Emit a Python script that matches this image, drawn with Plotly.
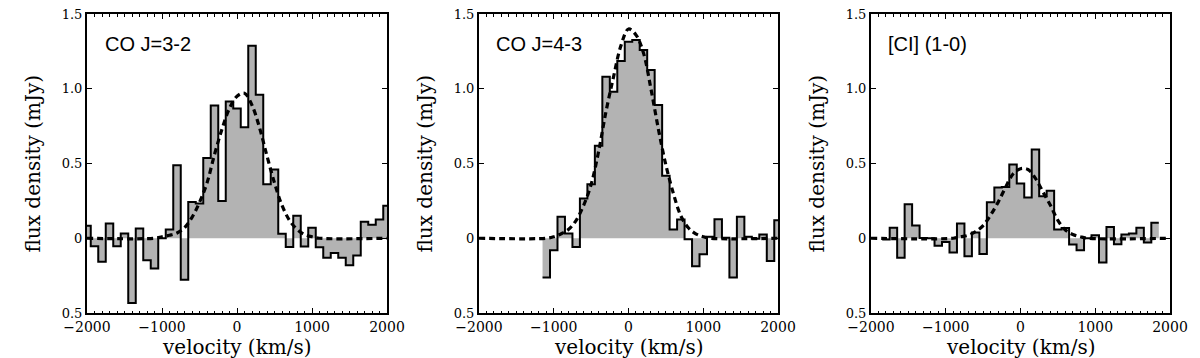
import numpy as np
import plotly.graph_objects as go
from plotly.subplots import make_subplots

# channel centres (km/s) and flux density (mJy), 100 km/s channels
bin_width = 100

co32_vel = list(range(-2000, 2001, 100))
co32_flux = [0.083, -0.054, -0.158, 0.098, -0.054, 0.031, -0.433, 0.065, -0.147, -0.203,
             0.0, 0.058, 0.489, -0.277, 0.243, 0.232, 0.536, 0.888, 0.250, 0.915,
             0.868, 0.743, 1.288, 0.960, 0.362, 0.460, 0.030, -0.058, 0.150, -0.055,
             0.070, -0.060, -0.130, -0.098, -0.130, -0.180, -0.115, 0.110, 0.090, 0.125,
             0.218]

co43_vel = list(range(-1100, 2001, 100))
co43_flux = [-0.263, -0.080, 0.143, 0.031, -0.058, 0.266, 0.362, 0.618, 1.080, 0.980,
             1.185, 1.315, 1.326, 1.260, 1.125, 0.892, 0.418, 0.058, 0.125, -0.007,
             -0.188, -0.107, 0.010, 0.127, 0.004, -0.263, 0.143, 0.010, -0.003, 0.025,
             -0.153, 0.120]

ci10_vel = list(range(-1800, 1801, 100))
ci10_flux = [-0.008, 0.070, -0.130, 0.228, 0.085, 0.002, 0.0, -0.050, -0.025, -0.096,
             0.098, -0.120, 0.038, -0.105, 0.240, 0.340, 0.342, 0.493, 0.366, 0.272,
             0.594, 0.281, 0.317, 0.058, 0.069, -0.042, -0.080, 0.0, 0.020, -0.163,
             0.076, -0.040, 0.025, 0.031, 0.071, -0.029, 0.103]

# gaussian fits
co32_fit_v = [-2000, -1100, -1000, -900, -800, -700, -600, -500, -400, -300, -200, -100, 0,
              100, 200, 300, 400, 500, 600, 700, 800, 900, 1000, 1100, 2000]
co32_fit_f = [0, 0, 0.01, 0.02, 0.035, 0.07, 0.14, 0.24, 0.37, 0.56, 0.73, 0.87, 0.95,
              0.97, 0.89, 0.74, 0.55, 0.37, 0.22, 0.12, 0.06, 0.025, 0.01, 0, 0]

co43_fit_v = [-2000, -1100, -1000, -900, -800, -700, -600, -500, -400, -300, -200, -100, 0,
              100, 200, 300, 400, 500, 600, 700, 800, 900, 1000, 1100, 2000]
co43_fit_f = [0, 0, 0.01, 0.03, 0.06, 0.12, 0.22, 0.36, 0.58, 0.85, 1.08, 1.29, 1.40,
              1.36, 1.24, 1.00, 0.73, 0.49, 0.30, 0.15, 0.07, 0.03, 0.01, 0, 0]

ci10_fit_v = [-2000, -900, -800, -700, -600, -500, -400, -300, -200, -100, 0,
              100, 200, 300, 400, 500, 600, 700, 800, 900, 2000]
ci10_fit_f = [0, 0, 0.01, 0.02, 0.045, 0.085, 0.155, 0.24, 0.34, 0.43, 0.465,
              0.46, 0.40, 0.31, 0.22, 0.12, 0.055, 0.025, 0.01, 0, 0]

line_names = ['CO J=3-2', 'CO J=4-3', '[CI] (1-0)']
x_ticks = [-2000, -1000, 0, 1000, 2000]
x_ticktext = ['\u22122000', '\u22121000', '0', '1000', '2000']
y_ticks = [-0.5, 0, 0.5, 1.0, 1.5]
y_ticktext = ['0.5', '0', '0.5', '1.0', '1.5']

spectra = [(co32_vel, co32_flux, co32_fit_v, co32_fit_f),
           (co43_vel, co43_flux, co43_fit_v, co43_fit_f),
           (ci10_vel, ci10_flux, ci10_fit_v, ci10_fit_f)]

# the page body has an 8px margin, so the figure is drawn 8px in from the corner
OFF = 8
W, H = 1200 - OFF, 358 - OFF
x_dom = [(87, 387), (479, 778), (871, 1170)]   # screen pixels in the reference
y_top, y_bot = 14, 313


def px_x(p):
    return (p - OFF) / W


def px_y(p):
    return 1 - (p - OFF) / H


fig = make_subplots(rows=1, cols=3)

for i, (v, f, fv, ff) in enumerate(spectra):
    c = i + 1
    v = np.array(v, dtype=float)
    f = np.array(f, dtype=float)
    edges = np.append(v - bin_width / 2, v[-1] + bin_width / 2)
    steps = np.append(f, f[-1])
    fig.add_trace(go.Scatter(x=edges, y=steps, mode='lines', line_shape='hv',
                             fill='tozeroy', fillcolor='#b3b3b3',
                             line=dict(color='black', width=2), showlegend=False),
                  row=1, col=c)
    fig.add_trace(go.Scatter(x=fv, y=ff, mode='lines', line_shape='spline',
                             line=dict(color='black', width=3.2, dash='6px,4px'),
                             showlegend=False),
                  row=1, col=c)

    axis_common = dict(showline=True, linecolor='black', linewidth=2, mirror='allticks',
                       ticks='inside', tickcolor='black', showgrid=False, zeroline=False,
                       automargin=False, ticklabeloverflow='allow')
    fig.update_xaxes(range=[-2000, 2000], tickvals=x_ticks, ticktext=x_ticktext,
                     ticklen=5, tickwidth=1,
                     minor=dict(ticks='inside', dtick=100, tick0=0, ticklen=2.5,
                                tickcolor='black', showgrid=False),
                     tickfont=dict(family='DejaVu Serif', size=14, color='black'),
                     domain=[px_x(x_dom[i][0]), px_x(x_dom[i][1])],
                     **axis_common, row=1, col=c)
    fig.update_yaxes(range=[-0.5, 1.5], tickvals=y_ticks, ticktext=y_ticktext,
                     ticklen=5, tickwidth=1,
                     tickfont=dict(family='DejaVu Serif', size=13, color='black'),
                     domain=[px_y(y_bot), px_y(y_top)],
                     **axis_common, row=1, col=c)

    xref = 'x domain' if c == 1 else f'x{c} domain'
    yref = 'y domain' if c == 1 else f'y{c} domain'
    fig.add_annotation(text=line_names[i], xref=xref, yref=yref, x=15.5 / 300, y=0.898,
                       xanchor='left', yanchor='middle', showarrow=False,
                       font=dict(family='Liberation Sans', size=20, color='black'))
    # axis titles
    x_mid = (x_dom[i][0] + x_dom[i][1]) / 2
    fig.add_annotation(text='velocity (km/s)', xref='paper', yref='paper',
                       x=px_x(x_mid), y=px_y(347), xanchor='center', yanchor='middle',
                       showarrow=False,
                       font=dict(family='DejaVu Serif', size=20, color='black'))
    fig.add_annotation(text='flux density (mJy)', xref='paper', yref='paper',
                       x=px_x(x_dom[i][0] - 55), y=px_y(163.5), textangle=-90,
                       xanchor='center', yanchor='middle', showarrow=False,
                       font=dict(family='DejaVu Serif', size=20, color='black'))

fig.update_layout(width=W, height=H, margin=dict(l=0, r=0, t=0, b=0),
                  plot_bgcolor='white', paper_bgcolor='white')

fig.write_html("out.html")
